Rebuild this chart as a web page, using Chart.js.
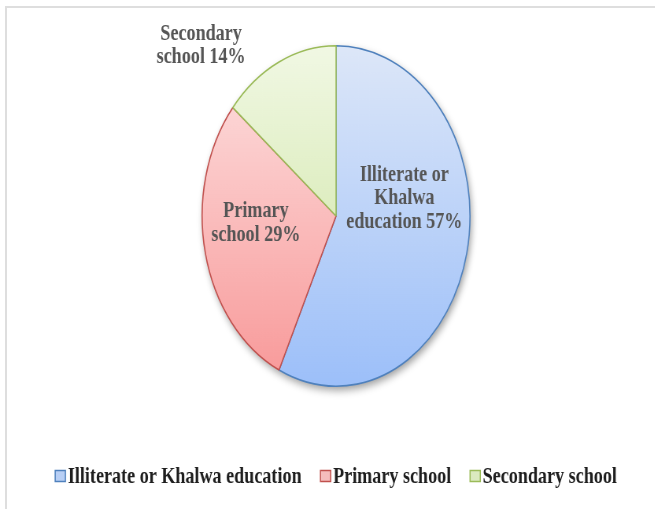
<!DOCTYPE html>
<html>
<head>
<meta charset="utf-8">
<title>Education level</title>
<script src="https://cdn.jsdelivr.net/npm/chart.js@4/dist/chart.umd.min.js"></script>
<style>
  html, body { margin: 0; padding: 0; background: #fff; overflow: hidden; }
  #moldura {
    position: absolute; left: 5px; top: 6px; width: 660px; height: 520px;
    border-top: 2px solid #dedede; border-left: 2px solid #dedede;
  }
  /* o grafico e desenhado mais largo e comprimido na horizontal */
  #caixa {
    position: absolute; left: 0; top: 0; width: 832px; height: 509px;
    transform: scaleX(0.787); transform-origin: 0 0;
  }
</style>
</head>
<body>
<div id="moldura"></div>
<div id="caixa"><canvas id="graficoEscolaridade"></canvas></div>

<script>
const categorias = ['Illiterate or Khalwa education', 'Primary school', 'Secondary school'];
const percentuais = [57, 29, 14];
// quebras de linha dos rotulos dentro da pizza (o valor vai no fim da ultima linha)
const linhasRotulo = [['Illiterate or', 'Khalwa', 'education'], ['Primary', 'school'], ['Secondary', 'school']];

const bordas = ['#4f81bd', '#c0504d', '#9bbb59'];
const corTopo = ['#dde7f8', '#fde2e2', '#f1f8e4'];
const corBase = ['#9cbff9', '#f89898', '#c9e29a'];
const corLegenda = ['#b8cff5', '#f5bcbc', '#dbeabf'];

// posicao dos rotulos: fracao do raio e desvio (graus) do angulo medio da fatia
const raioRotulo = [0.52, 0.60, 1.42];
const desvioRotulo = [-24, 8.6, -20];

const fonteTexto = '"Liberation Serif", "Times New Roman", serif';

function gradiente(context, i) {
  const chart = context.chart;
  const area = chart.chartArea;
  if (!area) return corBase[i];
  const g = chart.ctx.createLinearGradient(0, area.top, 0, area.bottom);
  g.addColorStop(0, corTopo[i]);
  g.addColorStop(1, corBase[i]);
  return g;
}

// sombra suave por baixo da pizza
const sombra = {
  id: 'sombra',
  beforeDatasetsDraw(chart) {
    const arco = chart.getDatasetMeta(0).data[0];
    if (!arco) return;
    const c = chart.ctx;
    c.save();
    c.shadowColor = 'rgba(0,0,0,0.4)';
    c.shadowBlur = 9;
    c.shadowOffsetX = 2;
    c.shadowOffsetY = 4;
    c.fillStyle = '#ffffff';
    c.beginPath();
    c.arc(arco.x, arco.y, arco.outerRadius, 0, Math.PI * 2);
    c.fill();
    c.restore();
  }
};

const rotulos = {
  id: 'rotulos',
  afterDatasetsDraw(chart) {
    const c = chart.ctx;
    const valores = chart.data.datasets[0].data;
    c.save();
    c.font = 'bold 23px ' + fonteTexto;
    c.fillStyle = '#555555';
    c.textAlign = 'center';
    c.textBaseline = 'middle';
    chart.getDatasetMeta(0).data.forEach((arco, i) => {
      const meio = (arco.startAngle + arco.endAngle) / 2 + desvioRotulo[i] * Math.PI / 180;
      const r = arco.outerRadius * raioRotulo[i];
      const x = arco.x + Math.cos(meio) * r;
      const y = arco.y + Math.sin(meio) * r;
      const linhas = linhasRotulo[i].slice();
      linhas[linhas.length - 1] += ' ' + valores[i] + '%';
      const altura = 23.5;
      const y0 = y - (linhas.length - 1) * altura / 2;
      linhas.forEach((t, k) => c.fillText(t, x, y0 + k * altura));
    });
    c.restore();
  }
};

// legenda desenhada embaixo, centralizada na pizza
const legendaInferior = {
  id: 'legendaInferior',
  afterDraw(chart) {
    const c = chart.ctx;
    const arco = chart.getDatasetMeta(0).data[0];
    c.save();
    c.font = 'bold 23px ' + fonteTexto;
    c.textBaseline = 'middle';
    c.textAlign = 'left';
    const caixaL = 13, caixaA = 11, folga = 3, entre = 24;
    const larguras = chart.data.labels.map(t => caixaL + folga + c.measureText(t).width);
    const total = larguras.reduce((a, b) => a + b, 0) + entre * (larguras.length - 1);
    let x = arco.x - total / 2;
    const y = 476;
    chart.data.labels.forEach((t, i) => {
      c.fillStyle = corLegenda[i];
      c.strokeStyle = bordas[i];
      c.lineWidth = 1.5;
      c.fillRect(x, y - caixaA / 2, caixaL, caixaA);
      c.strokeRect(x, y - caixaA / 2, caixaL, caixaA);
      c.fillStyle = '#1e1e1e';
      c.fillText(t, x + caixaL + folga, y + 1);
      x += larguras[i] + entre;
    });
    c.restore();
  }
};

const graficoEscolaridade = document.getElementById('graficoEscolaridade');

new Chart(graficoEscolaridade, {
  type: 'pie',
  data: {
    labels: categorias,
    datasets: [{
      data: percentuais,
      backgroundColor: ctx => gradiente(ctx, ctx.dataIndex),
      borderColor: bordas,
      borderWidth: 1.6
    }]
  },
  options: {
    responsive: true,
    maintainAspectRatio: false,
    animation: false,
    layout: { padding: { left: 22, top: 45, bottom: 122, right: 0 } },
    plugins: {
      legend: { display: false },
      tooltip: { enabled: false }
    }
  },
  plugins: [sombra, rotulos, legendaInferior]
});
</script>
</body>
</html>
